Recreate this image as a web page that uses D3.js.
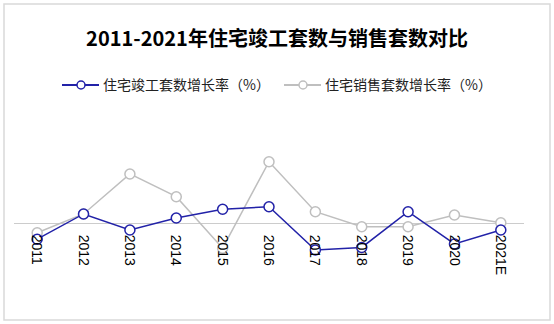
<!DOCTYPE html>
<meta charset="utf-8">
<style>
body {
  margin: 0;
  font-family: "Noto Sans CJK SC", "Liberation Sans", sans-serif;
}
.frame {
  fill: #fff;
  stroke: #d9d9d9;
  stroke-width: 1.5;
}
.zero {
  stroke: #cccccc;
  stroke-width: 1;
}
.line {
  fill: none;
  stroke-width: 1.5;
}
.dot {
  fill: #fff;
  stroke-width: 1.5;
}
.year {
  font-family: "Liberation Sans", Arial, sans-serif;
  font-size: 14px;
  fill: #000;
}
</style>
<body>
<script src="https://cdn.jsdelivr.net/npm/d3@7"></script>
<script>

var width = 554,
    height = 324;

var years = ["2011", "2012", "2013", "2014", "2015", "2016", "2017", "2018", "2019", "2020", "2021E"];
var completion = [-6.6, 3.5, -2.9, 1.9, 5.4, 6.4, -10.9, -9.9, 4.4, -8.5, -2.9];
var sales = [-4.0, 3.5, 19.5, 10.4, -10.2, 24.4, 4.4, -1.6, -1.6, 3.1, 0];

var seriesNames = ["住宅竣工套数增长率（%）", "住宅销售套数增长率（%）"];
var colors = ["#2222a8", "#bfbfbf"];

var svg = d3.select("body").append("svg")
    .attr("width", width)
    .attr("height", height);

svg.append("rect")
    .attr("class", "frame")
    .attr("x", 4)
    .attr("y", 4)
    .attr("width", 546)
    .attr("height", 316);

svg.append("text")
    .attr("x", 277)
    .attr("y", 46)
    .attr("text-anchor", "middle")
    .style("font-size", "20px")
    .style("font-weight", "bold")
    .text("2011-2021年住宅竣工套数与销售套数对比");

// legend
var legendX = [62, 284];
var legend = svg.selectAll(".legend")
    .data(seriesNames)
  .enter().append("g")
    .attr("class", "legend")
    .attr("transform", function(d, i) { return "translate(" + legendX[i] + ",85)"; });

legend.append("line")
    .attr("x1", 0)
    .attr("x2", 37)
    .style("stroke", function(d, i) { return colors[i]; })
    .style("stroke-width", 2);

legend.append("circle")
    .attr("cx", 19)
    .attr("r", 4)
    .style("fill", "#fff")
    .style("stroke", function(d, i) { return colors[i]; })
    .style("stroke-width", 1.5);

legend.append("text")
    .attr("x", 41)
    .attr("dy", "0.35em")
    .style("font-size", "14px")
    .style("fill", "#222")
    .text(function(d) { return d; });

var x = d3.scaleBand()
    .domain(years)
    .range([14, 524]);

var y = d3.scaleLinear()
    .domain([-20, 30])
    .range([272.7, 147.7]);

svg.append("line")
    .attr("class", "zero")
    .attr("x1", 14)
    .attr("x2", 524)
    .attr("y1", Math.round(y(0)) + 0.5)
    .attr("y2", Math.round(y(0)) + 0.5);

var line = d3.line()
    .x(function(d, i) { return x(years[i]) + x.bandwidth() / 2; })
    .y(function(d) { return y(d); });

[sales, completion].forEach(function(values) {
  var c = values === sales ? colors[1] : colors[0];

  svg.append("path")
      .datum(values)
      .attr("class", "line")
      .attr("d", line)
      .style("stroke", c);

  svg.selectAll(null)
      .data(values)
    .enter().append("circle")
      .attr("class", "dot")
      .attr("cx", function(d, i) { return x(years[i]) + x.bandwidth() / 2; })
      .attr("cy", function(d) { return y(d); })
      .attr("r", 5)
      .style("stroke", c);
});

// year labels, rotated, hanging below the zero line (drawn over the marks)
svg.selectAll(".year")
    .data(years)
  .enter().append("text")
    .attr("class", "year")
    .attr("transform", function(d) { return "translate(" + (x(d) + x.bandwidth() / 2) + "," + (y(0) + 12) + ") rotate(90)"; })
    .attr("dy", "0.35em")
    .text(function(d) { return d; });

</script>
